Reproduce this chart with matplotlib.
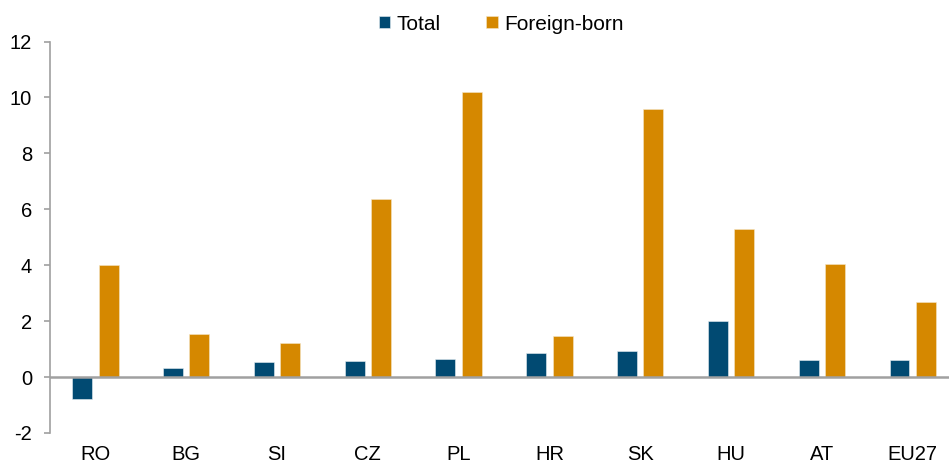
import matplotlib
matplotlib.use("Agg")
import matplotlib.pyplot as plt
import numpy as np

plt.rcParams['font.family'] = ['Liberation Sans', 'DejaVu Sans']

categories = ["RO", "BG", "SI", "CZ", "PL", "HR", "SK", "HU", "AT", "EU27"]
total = [-0.77, 0.34, 0.55, 0.56, 0.64, 0.85, 0.95, 2.0, 0.6, 0.6]
foreign_born = [4.02, 1.54, 1.23, 6.36, 10.2, 1.48, 9.6, 5.28, 4.06, 2.7]
yticks = [-2, 0, 2, 4, 6, 8, 10, 12]

navy = "#014A72"
orange = "#D58800"
grey = "#A0A0A0"

fig = plt.figure(figsize=(9.49, 4.66), dpi=100)
ax = fig.add_axes([50/949, 1-433/466, (949-50)/949, (433-41.5)/466])

x = np.arange(len(categories))
w = 0.22
off = 0.145
ax.bar(x - off, total, w, color=navy, label="Total", edgecolor="#E8EEF2", linewidth=0.4, zorder=2)
ax.bar(x + off, foreign_born, w, color=orange, label="Foreign-born", edgecolor="#F5E6C8", linewidth=0.4, zorder=2)

ax.set_xlim(-0.5, 9.4)
ax.set_ylim(-2, 12)
ax.set_yticks(yticks)
ax.set_yticklabels([str(t) for t in yticks])
ax.set_xticks(x)
ax.set_xticklabels(categories)

ax.axhline(0, color=grey, linewidth=1.8, zorder=3)
for s in ["top", "right", "bottom"]:
    ax.spines[s].set_visible(False)
ax.spines["left"].set_color(grey)
ax.spines["left"].set_linewidth(1.2)

ax.tick_params(axis="y", direction="out", length=4, width=1.2, color=grey, pad=9, labelsize=14.5, labelcolor="black")
ax.tick_params(axis="x", length=0, pad=9, labelsize=14.5, labelcolor="black")

fig.legend(loc="center", bbox_to_anchor=(0.528, 1-24/466), ncol=2, frameon=False,
           fontsize=15, handlelength=0.55, handleheight=0.55, handletextpad=0.3, columnspacing=2.2)

fig.savefig("out.png", dpi=100)
